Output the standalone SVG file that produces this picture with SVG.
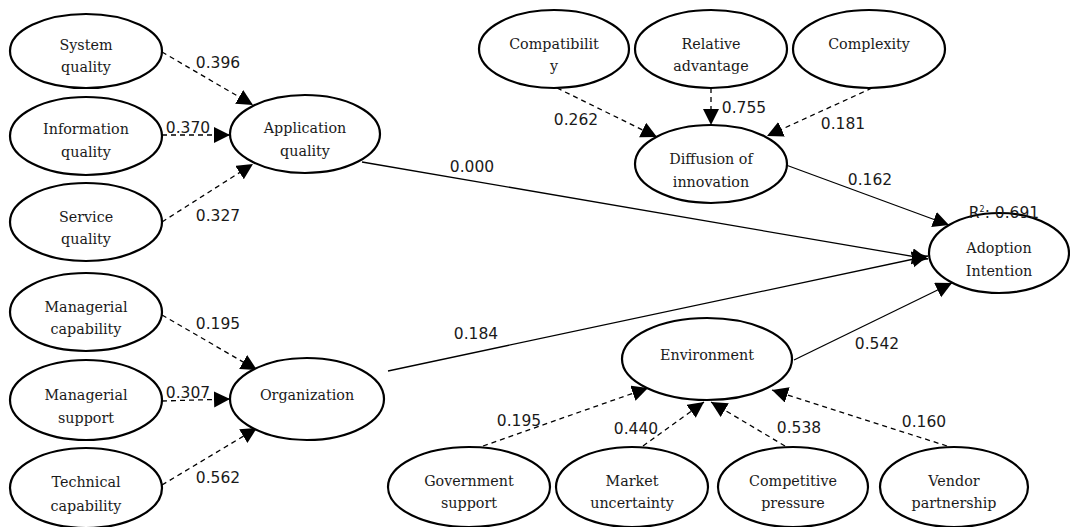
<svg xmlns="http://www.w3.org/2000/svg" width="1070" height="527" viewBox="0 0 1070 527">
<style>
.n ellipse{fill:#fff;stroke:#000;stroke-width:2.2}
.n text{font-family:"DejaVu Serif","Liberation Serif",serif;font-size:14.3px;text-anchor:middle;fill:#1a1a1a}
.c line{stroke:#000;stroke-width:1.3;marker-end:url(#ah)}
.c .d{stroke-dasharray:5 4}
.l{font-family:"DejaVu Sans","Liberation Sans",sans-serif;font-size:15.5px;text-anchor:middle;fill:#1a1a1a}
</style>
<defs>
<marker id="ah" markerUnits="userSpaceOnUse" markerWidth="17" markerHeight="17" refX="16" refY="8" orient="auto" viewBox="0 0 17 17">
<path d="M0,0 L16,8 L0,16 z" fill="#000"/>
</marker>
</defs>
<rect width="1070" height="527" fill="#fff"/>
<g class="c" id="connectors">
<line class="d" x1="162" y1="52" x2="253" y2="105"/>
<line class="d" x1="162" y1="135" x2="230" y2="135"/>
<line class="d" x1="162" y1="222" x2="253" y2="164"/>
<line x1="362" y1="162" x2="928" y2="259"/>
<line x1="388" y1="371" x2="928" y2="256"/>
<line x1="786" y1="165" x2="949" y2="225"/>
<line x1="794" y1="360" x2="952" y2="283"/>
<line class="d" x1="557" y1="88" x2="657" y2="137"/>
<line class="d" x1="711" y1="88" x2="711" y2="125"/>
<line class="d" x1="872" y1="88" x2="767" y2="136"/>
<line class="d" x1="162" y1="315" x2="257" y2="370"/>
<line class="d" x1="162" y1="401" x2="230" y2="399"/>
<line class="d" x1="162" y1="485" x2="257" y2="428"/>
<line class="d" x1="483" y1="446" x2="648" y2="388"/>
<line class="d" x1="643" y1="446" x2="704" y2="402"/>
<line class="d" x1="785" y1="446" x2="711" y2="402"/>
<line class="d" x1="947" y1="446" x2="772" y2="390"/>
</g>
<g class="n" id="system-quality"><ellipse cx="86" cy="51" rx="76" ry="37"/><text x="86" y="50">System</text><text x="86" y="72">quality</text></g>
<g class="n" id="information-quality"><ellipse cx="86" cy="136" rx="76" ry="39"/><text x="86" y="134">Information</text><text x="86" y="157">quality</text></g>
<g class="n" id="service-quality"><ellipse cx="86" cy="222" rx="76" ry="39"/><text x="86" y="222">Service</text><text x="86" y="244">quality</text></g>
<g class="n" id="application-quality"><ellipse cx="305" cy="134" rx="75" ry="39"/><text x="305" y="133">Application</text><text x="305" y="156">quality</text></g>
<g class="n" id="managerial-capability"><ellipse cx="86" cy="312" rx="76" ry="39"/><text x="86" y="312">Managerial</text><text x="86" y="334">capability</text></g>
<g class="n" id="managerial-support"><ellipse cx="86" cy="400" rx="76" ry="40"/><text x="86" y="400">Managerial</text><text x="86" y="423">support</text></g>
<g class="n" id="technical-capability"><ellipse cx="86" cy="488" rx="76" ry="40"/><text x="86" y="487">Technical</text><text x="86" y="511">capability</text></g>
<g class="n" id="organization"><ellipse cx="307" cy="399" rx="77" ry="41"/><text x="307" y="400">Organization</text></g>
<g class="n" id="compatibility"><ellipse cx="554" cy="49" rx="75" ry="39"/><text x="554" y="49">Compatibilit</text><text x="554" y="71">y</text></g>
<g class="n" id="relative-advantage"><ellipse cx="711" cy="49" rx="76" ry="39"/><text x="711" y="49">Relative</text><text x="711" y="71">advantage</text></g>
<g class="n" id="complexity"><ellipse cx="869" cy="49" rx="76" ry="39"/><text x="869" y="49">Complexity</text></g>
<g class="n" id="diffusion-of-innovation"><ellipse cx="711" cy="164" rx="76" ry="39"/><text x="711" y="164">Diffusion of</text><text x="711" y="187">innovation</text></g>
<g class="n" id="adoption-intention"><ellipse cx="999" cy="253" rx="70" ry="40"/><text x="999" y="253">Adoption</text><text x="999" y="276">Intention</text></g>
<g class="n" id="environment"><ellipse cx="707" cy="359" rx="85" ry="41"/><text x="707" y="360">Environment</text></g>
<g class="n" id="government-support"><ellipse cx="469" cy="487" rx="81" ry="40"/><text x="469" y="486">Government</text><text x="469" y="508">support</text></g>
<g class="n" id="market-uncertainty"><ellipse cx="632" cy="487" rx="76" ry="40"/><text x="632" y="486">Market</text><text x="632" y="508">uncertainty</text></g>
<g class="n" id="competitive-pressure"><ellipse cx="793" cy="487" rx="75" ry="40"/><text x="793" y="486">Competitive</text><text x="793" y="508">pressure</text></g>
<g class="n" id="vendor-partnership"><ellipse cx="954" cy="487" rx="74" ry="40"/><text x="954" y="486">Vendor</text><text x="954" y="508">partnership</text></g>
<g id="labels">
<text class="l" x="218" y="68">0.396</text>
<text class="l" x="188" y="133">0.370</text>
<text class="l" x="218" y="221">0.327</text>
<text class="l" x="472" y="172">0.000</text>
<text class="l" x="576" y="125">0.262</text>
<text class="l" x="744" y="113">0.755</text>
<text class="l" x="843" y="129">0.181</text>
<text class="l" x="870" y="185">0.162</text>
<text class="l" x="1004" y="218">R<tspan font-size="8" dy="-6">2</tspan><tspan dy="6">: 0.691</tspan></text>
<text class="l" x="218" y="329">0.195</text>
<text class="l" x="188" y="398">0.307</text>
<text class="l" x="218" y="483">0.562</text>
<text class="l" x="476" y="339">0.184</text>
<text class="l" x="519" y="426">0.195</text>
<text class="l" x="636" y="434">0.440</text>
<text class="l" x="799" y="433">0.538</text>
<text class="l" x="924" y="427">0.160</text>
<text class="l" x="877" y="349">0.542</text>
</g>
</svg>
